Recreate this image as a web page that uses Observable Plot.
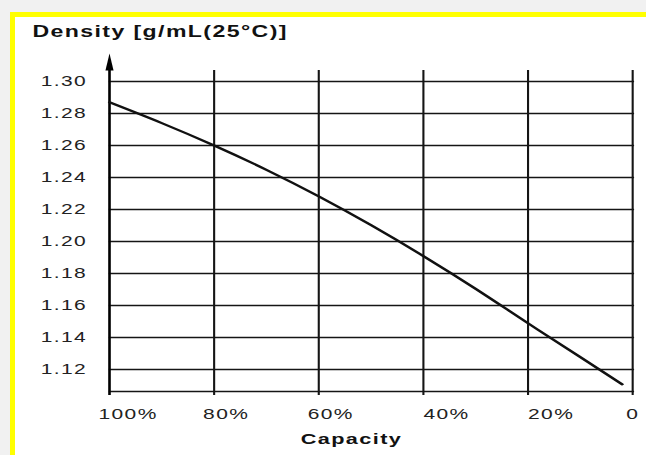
<!DOCTYPE html>
<html><head><meta charset="utf-8">
<script src="https://cdn.jsdelivr.net/npm/d3@7"></script>
<script src="https://cdn.jsdelivr.net/npm/@observablehq/plot@0.6"></script>
<style>
html,body{margin:0;padding:0;background:#f1f1f1;overflow:hidden;width:646px;height:455px}
#frame{position:absolute;left:10px;top:12px;width:700px;height:500px;border-left:5px solid #ffff00;border-top:5px solid #ffff00;background:#fff;overflow:hidden}
#wrap{position:absolute;left:0;top:0;transform:scaleX(1.4);transform-origin:0 0;}
</style></head><body>
<div id="frame"><div id="wrap"></div></div>
<script>
const capacity = [100, 90, 80, 70, 60, 50, 40, 30, 20, 10, 2];
const density  = [1.287, 1.274, 1.260, 1.2448, 1.2282, 1.2102, 1.1909, 1.1704, 1.1489, 1.1277, 1.1107];
const xTicks = [100, 80, 60, 40, 20, 0];
const yTicks = [1.12, 1.14, 1.16, 1.18, 1.20, 1.22, 1.24, 1.26, 1.28, 1.30];
const xDomain = [100, 0];
const yDomain = [1.10625, 1.30];
const title = "Density [g/mL(25°C)]";
const xLabel = "Capacity";

const data = capacity.map((c, i) => ({capacity: c, density: density[i]}));
const fmtX = d => d === 0 ? "0" : d + "%";
const ink = "#151515";
const axisCommon = {tickSize: 0, tickPadding: 17, tickFormat: fmtX, fontSize: 15, fill: "#222", label: null};

const plot = Plot.plot({
  width: 451, height: 438,
  marginLeft: 67, marginRight: 10.3, marginTop: 64, marginBottom: 64,
  x: {domain: xDomain},
  y: {domain: yDomain},
  style: {fontFamily: "'Liberation Sans', Arial, sans-serif", letterSpacing: "1px", background: "transparent", overflow: "visible"},
  marks: [
    Plot.ruleY(yTicks, {stroke: ink, strokeWidth: 1.6, insetRight: -1.5}),
    Plot.ruleY([yDomain[0]], {stroke: ink, strokeWidth: 1.6, insetRight: -1.5}),
    Plot.ruleX(xTicks, {stroke: ink, strokeWidth: 1.5, insetTop: -11, insetBottom: -4}),
    Plot.ruleX([xDomain[0]], {stroke: "#000", strokeWidth: 1.6, insetTop: -12, insetBottom: -4}),
    Plot.vector([xDomain[0]], {x: d => d, frameAnchor: "top", shape: "spike", anchor: "start", length: 17, r: 2.9, fill: "#000", stroke: "none", dy: -11}),
    Plot.line(data, {x: "capacity", y: "density", curve: "natural", stroke: "#111", strokeWidth: 2.2}),
    Plot.axisY(yTicks, {tickSize: 0, tickPadding: 16, tickFormat: d => d.toFixed(2), fontSize: 15, fill: "#222", label: null}),
    Plot.axisX(xTicks.slice(0, 3), {...axisCommon, textAnchor: "start", dx: -7.9}),
    Plot.axisX(xTicks.slice(3, 5), {...axisCommon, textAnchor: "start", dx: 0}),
    Plot.axisX(xTicks.slice(5), {...axisCommon, textAnchor: "middle"}),
    Plot.text([title], {frameAnchor: "top-left", textAnchor: "start", lineAnchor: "middle", dx: -55, dy: -50, fontSize: 16.5, fontWeight: "bold", fill: "#111"}),
    Plot.text([xLabel], {frameAnchor: "bottom", lineAnchor: "middle", dx: -14, dy: 48, fontSize: 15.5, fontWeight: "bold", fill: "#111"})
  ]
});
document.getElementById("wrap").appendChild(plot);
</script>
</body></html>
